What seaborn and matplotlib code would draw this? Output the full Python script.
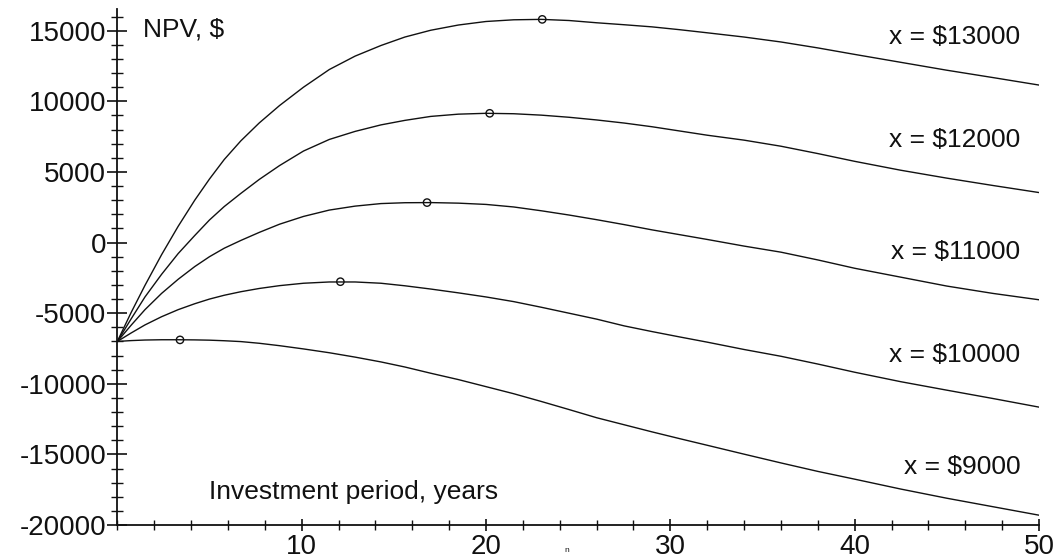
import matplotlib
matplotlib.use("Agg")
import matplotlib.pyplot as plt
import seaborn as sns
import pandas as pd
from matplotlib.ticker import MultipleLocator

# investment period, years
years = [0, 0.75, 1.5, 2.4, 3.3, 4.2, 5, 5.8, 6.7, 7.7, 8.8, 10.1, 11.5, 12.9, 14.3, 15.6,
         17, 18.5, 20, 21.5, 23, 24.5, 26, 27.5, 29, 30.5, 32, 34, 36, 38, 40, 42.5, 45,
         47.5, 50]

# NPV, $ for each annual income x
npv_13000 = [-7000, -4950, -3030, -860, 1150, 3000, 4500, 5880, 7200, 8470, 9700, 11000,
             12250, 13200, 13950, 14550, 15030, 15400, 15650, 15770, 15800, 15720, 15560,
             15420, 15270, 15070, 14850, 14550, 14200, 13780, 13320, 12760, 12200, 11680,
             11150]
npv_12000 = [-7000, -5400, -3850, -2250, -780, 500, 1600, 2550, 3480, 4470, 5450, 6480,
             7300, 7870, 8330, 8650, 8930, 9090, 9150, 9120, 9020, 8870, 8680, 8460, 8200,
             7900, 7600, 7250, 6820, 6300, 5750, 5120, 4560, 4040, 3540]
npv_11000 = [-7000, -5850, -4750, -3600, -2600, -1700, -1000, -400, 150, 720, 1300, 1850,
             2300, 2580, 2760, 2820, 2830, 2790, 2700, 2520, 2250, 1950, 1620, 1270, 900,
             560, 220, -250, -680, -1230, -1820, -2450, -3080, -3600, -4050]
npv_10000 = [-7000, -6400, -5830, -5250, -4750, -4330, -4000, -3730, -3480, -3250, -3050,
             -2880, -2790, -2790, -2880, -3060, -3290, -3560, -3850, -4180, -4580, -5000,
             -5420, -5900, -6300, -6680, -7050, -7570, -8050, -8600, -9180, -9850, -10450,
             -11040, -11650]
npv_9000 = [-7000, -6940, -6900, -6880, -6880, -6890, -6910, -6950, -7010, -7130, -7300,
            -7530, -7800, -8110, -8450, -8810, -9250, -9700, -10200, -10700, -11250, -11820,
            -12400, -12900, -13400, -13880, -14350, -14980, -15600, -16200, -16750, -17450,
            -18100, -18700, -19300]

# optimum points (maxima)
max_years = [3.4, 12.1, 16.8, 20.2, 23.05]
max_npv = [-6890, -2770, 2830, 9150, 15800]

incomes = ["x = $13000", "x = $12000", "x = $11000", "x = $10000", "x = $9000"]
label_y = [14550, 7260, -660, -7950, -15870]

series = [npv_13000, npv_12000, npv_11000, npv_10000, npv_9000]
df = pd.concat(
    [pd.DataFrame({"t": years, "npv": s, "x": name}) for s, name in zip(series, incomes)],
    ignore_index=True,
)

sns.set_style("white")
plt.rcParams["font.family"] = ["Liberation Sans", "DejaVu Sans"]
plt.rcParams["axes.unicode_minus"] = False

fig = plt.figure(figsize=(10.57, 5.58), dpi=100)
ax = fig.add_axes([0.111, 0.059, 0.872, 0.924])

sns.lineplot(data=df, x="t", y="npv", units="x", estimator=None, color="#111111",
             linewidth=1.0, ax=ax, legend=False)
sns.scatterplot(x=max_years, y=max_npv, ax=ax, s=28, facecolor="none",
                edgecolor="#111111", linewidth=1.0, zorder=3)

ax.set_xlim(0, 50)
ax.set_ylim(-20000, 16500)
ax.set_xlabel("")
ax.set_ylabel("")

ax.xaxis.set_major_locator(MultipleLocator(10))
ax.xaxis.set_minor_locator(MultipleLocator(2))
ax.yaxis.set_major_locator(MultipleLocator(5000))
ax.yaxis.set_minor_locator(MultipleLocator(1000))
ax.set_xticks([10, 20, 30, 40, 50])
ax.set_yticks(range(-20000, 15001, 5000))

for side in ["top", "right"]:
    ax.spines[side].set_visible(False)
for side in ["left", "bottom"]:
    ax.spines[side].set_color("#111111")
    ax.spines[side].set_linewidth(1.3)

ax.tick_params(axis="y", which="major", direction="inout", length=14, width=1.2,
               labelsize=20, pad=1, left=True, colors="#111111")
ax.tick_params(axis="y", which="minor", direction="inout", length=8, width=1.0, left=True,
               colors="#111111")
ax.tick_params(axis="x", which="major", direction="inout", length=9, width=1.2,
               labelsize=20, pad=2, bottom=True, colors="#111111")
ax.tick_params(axis="x", which="minor", direction="inout", length=7, width=1.0, bottom=True,
               colors="#111111")

ax.text(1.4, 15050, "NPV, $", fontsize=19, va="center", ha="left", color="#111111")
ax.text(5.0, -17640, "Investment period, years", fontsize=19, va="center", ha="left",
        color="#111111")
for name, y in zip(incomes, label_y):
    ax.text(49.0, y, name, fontsize=19, va="center", ha="right", color="#111111")
ax.text(24.4, -21800, "n", fontsize=6, va="center", ha="center", color="#111111",
        clip_on=False)

fig.savefig("out.png", dpi=100)
